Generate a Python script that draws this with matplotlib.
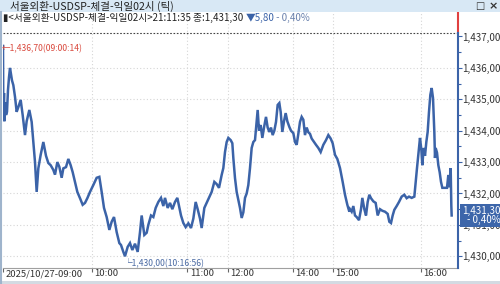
import matplotlib
matplotlib.use('Agg')
import matplotlib.pyplot as plt
import matplotlib.transforms as mtrans
from matplotlib.patches import Rectangle
from matplotlib.lines import Line2D
import numpy as np

plt.rcParams['font.family'] = ['Liberation Sans Narrow', 'Noto Sans CJK KR', 'DejaVu Sans']

# tick sequence number vs traded price (USD/KRW, 2025-10-27)
tick_idx = [9, 10, 12, 13, 15, 18, 21, 24, 27, 30, 33, 36, 40, 45, 50, 55, 62, 68, 75, 80,
            88, 95, 100, 105, 110, 115, 122, 130, 138, 145, 152, 160, 165, 172, 178, 185, 190, 198, 205, 212,
            218, 225, 232, 240, 248, 255, 262, 270, 280, 290, 298, 305, 312, 320, 328, 335, 342, 350, 358, 363,
            370, 375, 383, 390, 397, 405, 413, 420, 425, 433, 440, 445, 453, 460, 467, 475, 483, 490, 495, 503,
            510, 517, 525, 532, 537, 543, 550, 557, 565, 573, 580, 587, 593, 600, 605, 613, 620, 627, 635, 643,
            650, 657, 665, 670, 675, 680, 685, 692, 697, 700, 705, 710, 715, 720, 725, 730, 735, 740, 745, 750,
            755, 760, 765, 770, 773, 777, 782, 787, 792, 798, 803, 808, 813, 818, 823, 828, 833, 838, 842, 847,
            852, 857, 862, 868, 873, 880, 885, 890, 895, 900, 905, 910, 915, 920, 925, 930, 935, 942, 948, 955,
            962, 970, 978, 985, 992, 998, 1005, 1012, 1020, 1028, 1035, 1042, 1048, 1050, 1055, 1060, 1065, 1070, 1077, 1083,
            1087, 1093, 1098, 1103, 1108, 1113, 1120, 1127, 1133, 1140, 1147, 1155, 1163, 1168, 1173, 1178, 1183, 1190, 1197, 1205,
            1213, 1220, 1227, 1235, 1243, 1247, 1251, 1255, 1260, 1264, 1267, 1271, 1275, 1279, 1283, 1287, 1291, 1295, 1299, 1303,
            1305, 1307, 1311, 1315, 1319, 1323, 1327, 1335, 1341, 1345, 1348, 1352, 1354, 1355]
price = [1436.70, 1434.5, 1435.2, 1434.3, 1434.9, 1434.5, 1434.6, 1435.3, 1435.7, 1436.0, 1435.8, 1435.6, 1435.45, 1435.08, 1434.6, 1434.75, 1434.98, 1434.5, 1433.86, 1434.3,
         1434.66, 1434.28, 1433.64, 1433.0, 1432.05, 1432.8, 1433.23, 1433.64, 1433.2, 1432.97, 1432.9, 1432.75, 1432.6, 1433.0, 1432.85, 1432.5, 1432.8, 1432.84, 1433.1, 1432.9,
         1432.68, 1432.37, 1432.05, 1431.85, 1431.64, 1431.7, 1431.85, 1432.05, 1432.27, 1432.5, 1432.53, 1432.05, 1431.54, 1431.25, 1430.84, 1431.1, 1431.25, 1430.77, 1430.42, 1430.36,
         1430.14, 1430.00, 1430.3, 1430.42, 1430.2, 1430.4, 1430.14, 1430.77, 1431.3, 1430.68, 1430.75, 1431.0, 1431.3, 1431.25, 1431.54, 1431.73, 1431.86, 1431.6, 1431.86, 1431.54,
         1431.7, 1431.5, 1431.73, 1431.86, 1431.6, 1431.3, 1431.06, 1430.93, 1431.05, 1430.9, 1431.2, 1431.73, 1431.5, 1431.2, 1430.9, 1431.54, 1431.7, 1431.86, 1432.05, 1432.37,
         1432.3, 1432.18, 1432.59, 1432.81, 1433.32, 1433.64, 1433.77, 1433.7, 1433.6, 1433.13, 1432.49, 1432.05, 1431.79, 1431.54, 1431.22, 1431.4, 1431.86, 1432.0, 1432.27, 1432.81,
         1433.45, 1433.64, 1433.7, 1434.28, 1434.66, 1434.0, 1434.18, 1433.77, 1434.1, 1434.44, 1434.1, 1433.96, 1434.1, 1433.86, 1434.0, 1434.28, 1434.82, 1434.88, 1434.6, 1433.96,
         1434.3, 1434.56, 1434.3, 1434.12, 1434.0, 1433.92, 1433.64, 1433.55, 1433.9, 1434.28, 1434.44, 1434.35, 1433.86, 1434.1, 1433.95, 1433.9, 1433.75, 1433.64, 1433.55, 1433.45,
         1433.32, 1433.55, 1433.7, 1433.86, 1433.75, 1433.6, 1433.23, 1433.1, 1432.81, 1432.37, 1431.96, 1431.64, 1431.42, 1431.5, 1431.42, 1431.6, 1431.3, 1431.25, 1431.15, 1431.5,
         1431.86, 1431.5, 1431.3, 1431.73, 1431.96, 1431.85, 1431.75, 1431.7, 1431.3, 1431.5, 1431.45, 1431.42, 1431.35, 1431.1, 1431.06, 1431.3, 1431.48, 1431.6, 1431.73, 1431.9,
         1431.96, 1431.85, 1431.9, 1431.86, 1431.9, 1432.37, 1432.81, 1433.23, 1433.77, 1433.4, 1432.9, 1433.45, 1433.2, 1433.64, 1433.96, 1434.6, 1435.14, 1435.36, 1435.04, 1433.96,
         1433.13, 1433.45, 1433.3, 1432.9, 1432.68, 1432.37, 1432.18, 1432.18, 1432.18, 1432.59, 1432.2, 1432.81, 1431.6, 1431.30]

time_ticks = [9, 276, 562, 684, 879, 999, 1263]
time_labels = ['2025/10/27-09:00', '10:00', '11:00', '12:00', '14:00', '15:00', '16:00']
price_levels = [1430, 1431, 1432, 1433, 1434, 1435, 1436, 1437]

title = '서울외환-USDSP-체결-익일02시 (틱)'
last_time = '21:11:35'
prev_close = 1437.10
change = -5.80
change_pct = -0.40
hi_time = '09:00:14'
lo_time = '10:16:56'

BLUE = '#3b63a8'
GRID = '#d6d6d6'


def won(v):
    return f'{v:,.2f}'.replace('.', ',')


W, H = 500, 284
fig = plt.figure(figsize=(W / 100, H / 100), dpi=100)
fig.patch.set_facecolor('white')

# window header
fig.add_artist(Rectangle((0, 1 - 12 / H), 1, 12 / H, transform=fig.transFigure,
                         fc='#d8e8f5', ec='none'))
fig.text(10 / W, 1 - 6.5 / H, title, fontsize=7.6, color='#222222', va='center')
fig.text(480 / W, 1 - 6 / H, '□', fontsize=7, color='#333333', va='center', ha='center',
         family=['DejaVu Sans'])
fig.text(493 / W, 1 - 6 / H, '×', fontsize=8, color='#333333', va='center', ha='center',
         family=['DejaVu Sans'], weight='bold')
fig.add_artist(Line2D([1 / W, 1 / W], [0, 1 - 12 / H], transform=fig.transFigure,
                      color='#9fb4cc', lw=1.5))
fig.add_artist(Rectangle((0, 0), 1, 3 / H, transform=fig.transFigure, fc='#d3dae2', ec='none'))

ax = fig.add_axes([3 / W, 16 / H, 455 / W, 255 / H])
ax.set_facecolor('white')
ax.set_xlim(tick_idx[0], 1374)
ax.set_ylim(1429.627, 1437.748)

ax.plot(tick_idx, price, color=BLUE, lw=1.8, zorder=3, solid_joinstyle='miter')

# grid
for lv in price_levels[:-1]:
    ax.axhline(lv, color=GRID, lw=0.8, ls=(0, (1, 2)), zorder=1)
for t in time_ticks[1:]:
    ax.axvline(t, color=GRID, lw=0.8, ls=(0, (1, 2)), zorder=1)
ax.axhline(prev_close, color='#444444', lw=0.8, ls=(0, (1.5, 1.5)), zorder=2)

for s in ['top', 'left', 'right']:
    ax.spines[s].set_visible(False)
ax.spines['bottom'].set_color('#a0a0a0')

# right axis bar: red above previous close, blue below
x_r = ax.get_xlim()[1]
y_lo, y_hi = ax.get_ylim()
ax.plot([x_r, x_r], [prev_close, y_hi], color='#e04040', lw=1.5, clip_on=False, zorder=4)
ax.plot([x_r, x_r], [y_lo, prev_close], color=BLUE, lw=1.5, clip_on=False, zorder=4)

ax.yaxis.tick_right()
ax.set_yticks(price_levels)
ax.set_yticklabels([won(v) for v in price_levels])
ax.set_yticks([v + 0.5 for v in price_levels[:-1]], minor=True)
ax.tick_params(axis='y', which='major', direction='out', length=3, width=0.8, color=BLUE,
               labelsize=7.0, labelcolor='#333333', pad=0.3)
ax.tick_params(axis='y', which='minor', direction='out', length=2, width=0.8, color=BLUE)

ax.set_xticks(time_ticks)
ax.set_xticklabels(time_labels)
ax.tick_params(axis='x', direction='out', length=3, width=0.8, color='#666666',
               labelsize=6.8, labelcolor='#333333', pad=-2.2)
shift = mtrans.ScaledTranslation(1.8 / 72, 0, fig.dpi_scale_trans)
for lab in ax.get_xticklabels():
    lab.set_ha('left')
    lab.set_transform(lab.get_transform() + shift)

# high / low markers
i_hi = int(np.argmax(price))
i_lo = int(np.argmin(price))
ax.annotate('←' + won(price[i_hi]) + '(' + hi_time + ')', xy=(tick_idx[i_hi], price[i_hi]),
            xytext=(-1, -2), textcoords='offset points', ha='left', va='center',
            fontsize=6.2, color='#d9483c', zorder=5)
ax.annotate('└' + won(price[i_lo]) + '(' + lo_time + ')', xy=(tick_idx[i_lo], price[i_lo]),
            xytext=(-1, -2), textcoords='offset points', ha='left', va='top',
            fontsize=6.2, color='#4a6aa3', zorder=5)

# last price box
ax.annotate(won(price[-1]) + '\n' + f'- {abs(change_pct):.2f}%'.replace('.', ','),
            xy=(1, price[-1]), xycoords=('axes fraction', 'data'),
            xytext=(3, 0), textcoords='offset points', ha='left', va='center',
            multialignment='right', fontsize=7, color='white', linespacing=0.95,
            bbox=dict(boxstyle='square,pad=0.2', fc='#3d66aa', ec='none'),
            annotation_clip=False, zorder=6)

# info line
info_y = 1 - 18 / H
p1 = fig.text(3 / W, info_y, '▮<' + title.replace(' (틱)', '') + '>' + last_time + ' 종:' + won(price[-1]) + ' ',
              fontsize=7, color='#222222', va='center')
fig.canvas.draw()
r = fig.canvas.get_renderer()
x_next = p1.get_window_extent(r).x1
p2 = fig.text(x_next / W, info_y, '▼' + won(abs(change)), fontsize=7, color=BLUE, va='center')
x_next = p2.get_window_extent(r).x1
fig.text(x_next / W, info_y, f' - {abs(change_pct):.2f}%'.replace('.', ','), fontsize=7,
         color='#6b82ad', va='center')

fig.savefig('out.png', dpi=100)
